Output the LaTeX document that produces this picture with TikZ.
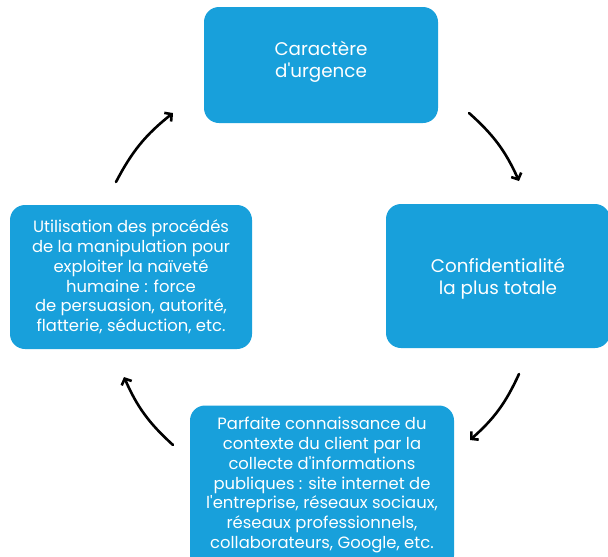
\documentclass[tikz,border=0pt]{standalone}
\usepackage{fontspec}
\setmainfont{Poppins}[Ligatures=TeXOff]
\usetikzlibrary{arrows.meta,positioning}
\definecolor{boxblue}{RGB}{24,160,219}
\tikzset{
  card/.style={fill=boxblue, rounded corners=15pt, text=white, align=center,
    inner sep=0pt, font=\fontsize{16.4}{19.8}\selectfont},
  bigtext/.style={font=\fontsize{18.3}{22}\selectfont},
  cardtext/.style={text=white, align=center, inner sep=0pt},
  cycle/.style={line width=2.6pt, line cap=round, bend left=12,
    -{Straight Barb[length=5pt,width=11pt,line width=2.6pt]}}
}
\begin{document}
\begin{tikzpicture}[x=1pt,y=-1pt]
  \useasboundingbox (0,0) rectangle (608,557);
  % the four stages of the cycle
  \node[card, minimum width=234pt, minimum height=116pt] (urgence) at (321,65) {};
  \node[cardtext, bigtext] (urgencetxt) at ([yshift=3pt]urgence.center)
    {Caractère\\d'urgence};
  \node[card, minimum width=224pt, minimum height=144pt] (confid) at (498,276) {};
  \node[cardtext, bigtext] (confidtxt) at ([yshift=-3pt]confid.center)
    {Confidentialité\\la plus totale};
  \node[card, minimum width=264pt, minimum height=165pt] (contexte) at (322,488) {};
  \node[cardtext, font=\fontsize{16.4}{19.8}\selectfont] (contextetxt)
    at ([yshift=3pt]contexte.center)
    {Parfaite connaissance du\\contexte du client par la\\collecte d'informations\\publiques : site internet de\\l'entreprise, réseaux sociaux,\\réseaux professionnels,\\collaborateurs, Google, etc.};
  \node[card, minimum width=242pt, minimum height=144pt] (manip) at (131,277)
    {Utilisation des procédés\\de la manipulation pour\\exploiter la naïveté\\humaine : force\\de persuasion, autorité,\\flatterie, séduction, etc.};
  % arrow end points between the stages
  \coordinate (a1s) at (116,182);
  \coordinate (a1e) at (173,113);
  \coordinate (a2s) at (469,113);
  \coordinate (a2e) at (519,181);
  \coordinate (a3s) at (519,374);
  \coordinate (a3e) at (470,440);
  \coordinate (a4s) at (173,445);
  \coordinate (a4e) at (124,377);
  \draw[cycle] (a1s) to (a1e);
  \draw[cycle] (a2s) to (a2e);
  \draw[cycle] (a3s) to (a3e);
  \draw[cycle] (a4s) to (a4e);
\end{tikzpicture}
\end{document}
